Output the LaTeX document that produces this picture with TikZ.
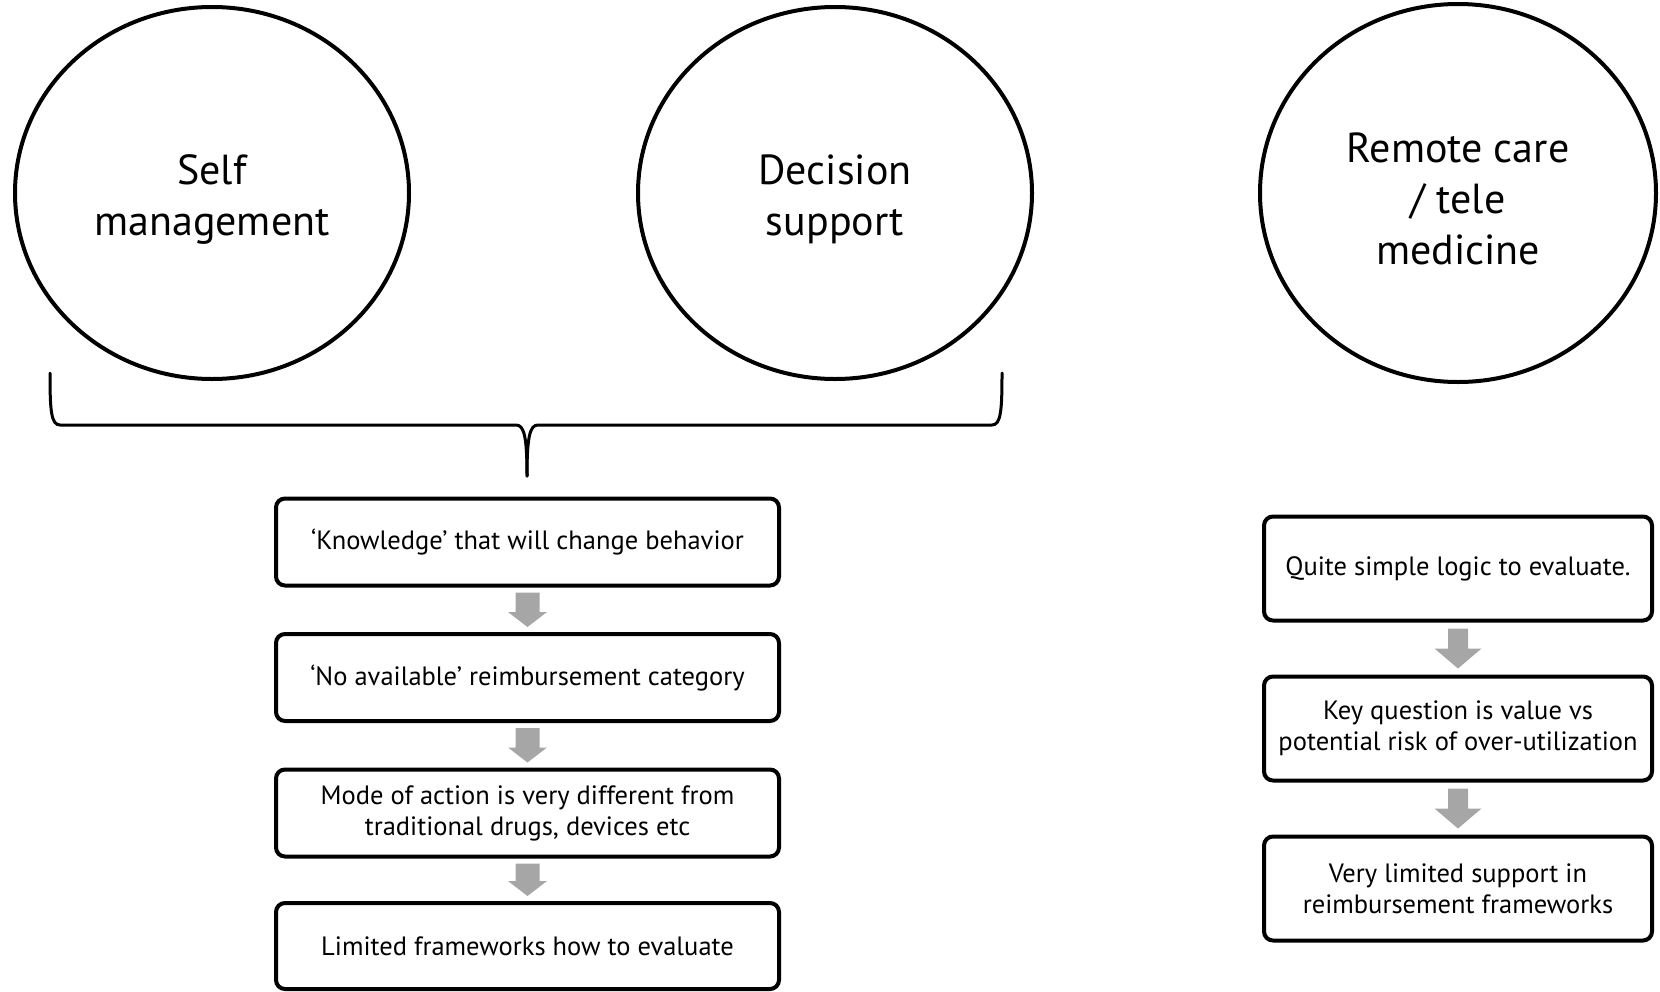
\documentclass[tikz,border=0pt]{standalone}
\usepackage{fontspec}
\setmainfont{PT Sans}
\usetikzlibrary{shapes.geometric,calc}
\definecolor{arrowgray}{HTML}{A6A6A6}
% block arrow between two stacked boxes:
% #1 upper node, #2 lower node, #3 gap, #4 shaft half width, #5 head half width, #6 head length
\newcommand\blockarrow[6]{%
  \fill[arrowgray] let \p1=($(#1.south)+(0,#3)$), \p2=($(#2.north)+(0,-#3)$) in
    (\x1-#4,\y1) -- (\x1+#4,\y1) -- (\x1+#4,\y2+#6) -- (\x1+#5,\y2+#6)
    -- (\x1,\y2) -- (\x1-#5,\y2+#6) -- (\x1-#4,\y2+#6) -- cycle;}
\begin{document}
\begin{tikzpicture}[x=1pt,y=-1pt,
  bubble/.style={ellipse,draw,line width=4pt,inner sep=0pt},
  bubbletext/.style={align=center,inner sep=0pt,yshift=-6pt,
    font=\fontsize{42}{51}\selectfont},
  stepbox/.style={rectangle,rounded corners=9pt,draw,line width=4pt,inner sep=0pt,
    align=center,font=\fontsize{26.5}{31}\selectfont},
  leftbox/.style={stepbox,minimum width=503pt,minimum height=87pt},
  rightbox/.style={stepbox,minimum width=388pt,minimum height=104pt},
  bracket/.style={line width=3pt,line join=round,line cap=round}]
\useasboundingbox (0,0) rectangle (1660,991);

% the three topics
\node[bubble,minimum width=394pt,minimum height=372pt] (self) at (212,193) {};
\node[bubble,minimum width=394pt,minimum height=372pt] (decision) at (835,193) {};
\node[bubble,minimum width=396pt,minimum height=378pt] (remote) at (1458,193) {};
\node[bubbletext] (selft) at (self.center) {Self\\management};
\node[bubbletext] (decisiont) at (decision.center) {Decision\\support};
\node[bubbletext] (remotet) at (remote.center) {Remote care\\/ tele\\medicine};

% brace grouping the first two topics
\coordinate (bl) at (50,373);
\coordinate (br) at (1002,373);
\coordinate (tip) at (527,476);
\draw[bracket] (bl) .. controls (50,410) and (51,425) .. (60,425) -- (516,425)
  .. controls (524,425) and (527,436) .. (tip);
\draw[bracket] (br) .. controls (1002,410) and (1001,425) .. (992,425) -- (538,425)
  .. controls (530,425) and (527,436) .. (tip);

% left column
\node[leftbox] (l1) at (527.5,542) {‘Knowledge’ that will change behavior};
\node[leftbox] (l2) at (527.5,677.5) {‘No available’ reimbursement category};
\node[leftbox] (l3) at (527.5,813) {Mode of action is very different from\\traditional drugs, devices etc};
\node[leftbox,minimum height=86pt] (l4) at (527.5,946) {Limited frameworks how to evaluate};

\blockarrow{l1}{l2}{5}{12pt}{19.5pt}{15pt}
\blockarrow{l2}{l3}{5}{12pt}{19.5pt}{15pt}
\blockarrow{l3}{l4}{5}{12pt}{19.5pt}{15pt}

% right column
\node[rightbox] (r1) at (1458,568.5) {Quite simple logic to evaluate.};
\node[rightbox] (r2) at (1458,728.5) {Key question is value vs\\potential risk of over-utilization};
\node[rightbox] (r3) at (1458,888.5) {Very limited support in\\reimbursement frameworks};

\blockarrow{r1}{r2}{6}{10pt}{23.5pt}{20pt}
\blockarrow{r2}{r3}{6}{10pt}{23.5pt}{20pt}
\end{tikzpicture}
\end{document}
